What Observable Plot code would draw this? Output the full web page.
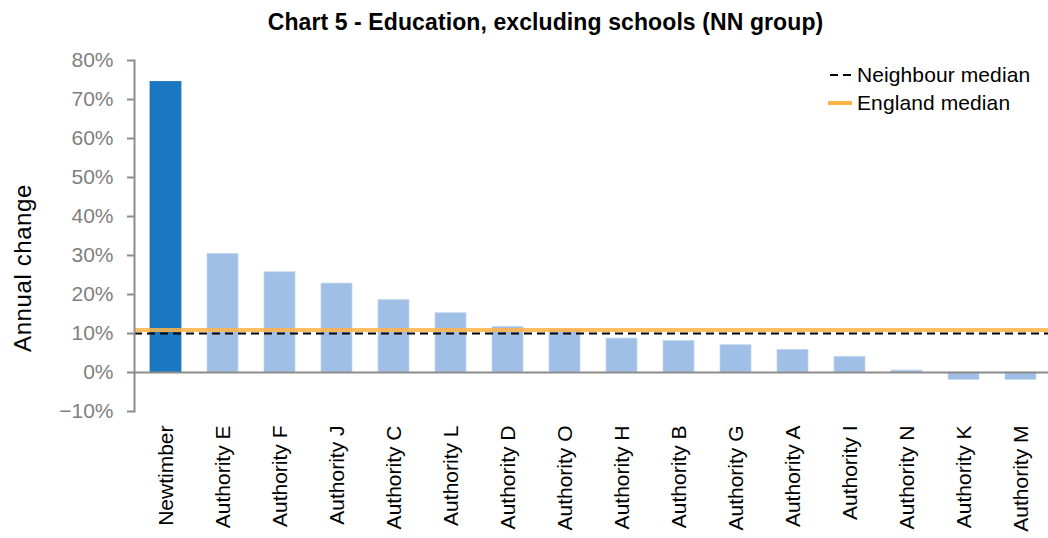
<!DOCTYPE html>
<html>
<head>
<meta charset="utf-8">
<script src="https://cdn.jsdelivr.net/npm/d3@7"></script>
<script src="https://cdn.jsdelivr.net/npm/@observablehq/plot@0.6"></script>
<style>
  html, body { margin: 0; padding: 0; background: #fff; }
  body { font-family: "Liberation Sans", Arial, sans-serif; }
  #wrap { position: relative; width: 1048px; height: 538px; overflow: hidden; }
  #title { position: absolute; left: 0; top: 8px; width: 1091px; text-align: center; font-weight: bold; font-size: 23px; letter-spacing: 0.1px; color: #000; line-height: 28px; }
  #ylabel { position: absolute; left: 23px; top: 268px; transform: translate(-50%, -50%) rotate(-90deg); white-space: nowrap; font-size: 24px; letter-spacing: 0.6px; color: #000; }
  #legend { position: absolute; left: 828px; top: 61px; font-size: 21px; letter-spacing: 0.1px; color: #000; }
  #legend .row { display: flex; align-items: center; height: 28px; }
  #legend svg { margin-right: 5px; }
  #chart { position: absolute; left: 0; top: 40px; }
</style>
</head>
<body>
<div id="wrap">
  <div id="title">Chart 5 - Education, excluding schools (NN group)</div>
  <div id="chart"></div>
  <div id="ylabel">Annual change</div>
  <div id="legend"></div>
</div>
<script>
const categories = ["Newtimber","Authority E","Authority F","Authority J","Authority C","Authority L","Authority D","Authority O","Authority H","Authority B","Authority G","Authority A","Authority I","Authority N","Authority K","Authority M"];
const values = [0.745,0.304,0.257,0.228,0.186,0.152,0.117,0.110,0.087,0.081,0.070,0.058,0.040,0.005,-0.019,-0.019];
const highlight = "Newtimber";
const neighbourMedian = 0.100;
const englandMedian = 0.109;
const yTicks = [-0.1,0,0.1,0.2,0.3,0.4,0.5,0.6,0.7,0.8];
const legendItems = ["Neighbour median","England median"];

const data = categories.map((c, i) => ({name: c, value: values[i]}));

const chart = Plot.plot({
  width: 1048,
  height: 498,
  marginTop: 20,
  marginBottom: 127,
  marginLeft: 134,
  marginRight: 0,
  style: {fontFamily: "Liberation Sans, Arial, sans-serif", background: "transparent", overflow: "visible"},
  x: {domain: categories, range: [134, 1051], paddingInner: 0.46, paddingOuter: 0.23, label: null},
  y: {domain: [-0.1, 0.8], label: null},
  marks: [
    Plot.barY(data, {x: "name", y: "value", fill: d => d.name === highlight ? "#1a78c2" : "#a0bfe6", stroke: d => d.name === highlight ? "#1a78c2" : "#c4d7f0", strokeWidth: 0.8}),
    Plot.ruleY([0], {stroke: "#8c8c8c", strokeWidth: 2}),
    Plot.ruleY([neighbourMedian], {stroke: "#000", strokeWidth: 2, strokeDasharray: "8,5"}),
    Plot.ruleY([englandMedian], {stroke: "#ffb347", strokeWidth: 4, strokeOpacity: 0.85}),
    Plot.frame({anchor: "left", stroke: "#8c8c8c", strokeWidth: 2}),
    Plot.axisY({ticks: yTicks, tickFormat: d3.format(".0%"), tickSize: 7, tickPadding: 14, fontSize: 21, color: "#7f7f7f", stroke: "#8c8c8c", strokeWidth: 2, label: null}),
    Plot.axisX({tickRotate: -90, tickSize: 0, tickPadding: 14, fontSize: 21, fill: "#000", label: null})
  ]
});
document.getElementById("chart").appendChild(chart);

const legend = document.getElementById("legend");
legendItems.forEach((name, i) => {
  const row = document.createElement("div");
  row.className = "row";
  const sw = i === 0
    ? `<svg width="24" height="10"><line x1="2" x2="24" y1="5" y2="5" stroke="#000" stroke-width="2" stroke-dasharray="8,5"/></svg>`
    : `<svg width="24" height="10"><line x1="0" x2="24" y1="5" y2="5" stroke="#ffb347" stroke-width="4"/></svg>`;
  row.innerHTML = sw + `<span>${name}</span>`;
  legend.appendChild(row);
});
</script>
</body>
</html>
